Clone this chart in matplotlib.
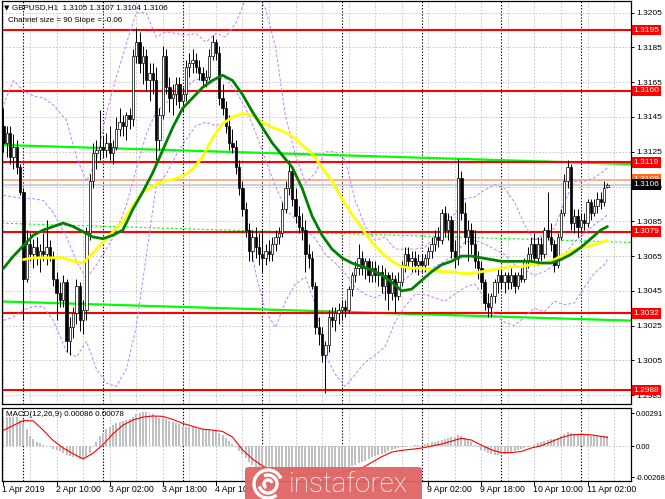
import matplotlib
matplotlib.use('Agg')
import matplotlib.pyplot as plt
import matplotlib.transforms as mtransforms
from matplotlib.patches import FancyBboxPatch, Arc
import numpy as np

W, H = 665, 499

# GBPUSD H1 candles, prices in pips above 1.3000
OPENS = [140, 130, 136, 122, 128, 116, 102, 52, 72, 66, 70, 64, 68, 66, 70, 64, 52, 44, 40, 50,
         16, 24, 32, 48, 28, 34, 78, 108, 124, 126, 128, 126, 130, 124, 128, 138, 142, 140, 146, 144,
         180, 188, 176, 180, 166, 170, 166, 132, 146, 180, 162, 156, 158, 164, 154, 158, 174, 176, 178, 174,
         170, 166, 168, 180, 188, 182, 156, 150, 140, 130, 128, 116, 104, 92, 80, 68, 76, 70, 66, 64,
         68, 66, 72, 76, 78, 92, 104, 114, 98, 88, 82, 80, 66, 64, 48, 24, 20, 8, 14, 30,
         28, 32, 34, 36, 34, 46, 54, 58, 64, 58, 62, 54, 58, 54, 56, 48, 54, 44, 52, 42,
         50, 60, 66, 62, 64, 60, 62, 60, 64, 68, 72, 76, 74, 90, 80, 86, 68, 64, 110, 90,
         76, 80, 72, 62, 58, 50, 38, 36, 42, 50, 54, 50, 54, 50, 54, 48, 54, 52, 62, 66,
         72, 64, 72, 66, 80, 76, 72, 60, 76, 90, 108, 116, 84, 88, 82, 86, 84, 96, 90, 94,
         98, 96, 105]
HIGHS = [150, 140, 140, 135, 132, 118, 104, 80, 78, 75, 76, 72, 78, 86, 74, 68, 56, 50, 54, 52,
         30, 36, 52, 50, 40, 82, 112, 130, 132, 149, 134, 136, 140, 132, 145, 150, 146, 148, 150, 184,
         196, 194, 186, 184, 176, 176, 174, 150, 186, 184, 168, 164, 168, 168, 162, 178, 182, 184, 182, 178,
         174, 172, 184, 192, 190, 186, 164, 154, 146, 138, 132, 120, 108, 96, 84, 80, 82, 78, 80, 72,
         74, 76, 80, 82, 96, 108, 120, 116, 104, 94, 90, 86, 72, 68, 50, 30, 24, 16, 34, 36,
         36, 38, 40, 40, 48, 56, 62, 72, 68, 64, 64, 62, 62, 60, 60, 58, 56, 56, 54, 56,
         62, 70, 70, 68, 68, 66, 66, 66, 70, 76, 80, 82, 92, 94, 90, 88, 74, 121, 114, 96,
         86, 84, 80, 68, 62, 52, 44, 44, 52, 58, 58, 56, 56, 58, 56, 56, 58, 64, 70, 76,
         78, 76, 76, 82, 102, 84, 74, 78, 92, 112, 120, 118, 92, 92, 90, 90, 98, 98, 98, 102,
         102, 108, 107]
LOWS = [125, 122, 118, 115, 112, 100, 28, 50, 62, 58, 60, 56, 62, 60, 62, 48, 28, 36, 36, 10,
        8, 18, 26, 22, 20, 28, 74, 104, 115, 120, 122, 122, 120, 118, 126, 134, 134, 132, 138, 140,
        176, 170, 164, 160, 154, 158, 120, 126, 144, 158, 148, 146, 152, 150, 148, 154, 168, 170, 170, 166,
        162, 162, 166, 178, 178, 152, 146, 136, 126, 124, 112, 100, 88, 76, 62, 62, 64, 60, 56, 60,
        62, 62, 68, 72, 76, 90, 100, 94, 84, 78, 74, 56, 58, 46, 20, 14, 4, -14, 10, 24,
        22, 26, 28, 30, 32, 42, 50, 54, 54, 52, 50, 50, 50, 48, 44, 40, 34, 40, 32, 40,
        48, 56, 58, 56, 56, 54, 56, 56, 60, 64, 68, 70, 72, 76, 74, 64, 58, 60, 86, 72,
        62, 66, 58, 52, 46, 34, 30, 30, 38, 44, 46, 44, 46, 46, 44, 46, 50, 50, 58, 62,
        60, 60, 62, 64, 74, 68, 56, 58, 74, 88, 104, 80, 78, 76, 78, 80, 82, 86, 88, 90,
        92, 94, 104]
CLOSES = [130, 136, 122, 128, 116, 102, 52, 72, 66, 70, 64, 68, 66, 70, 64, 52, 44, 40, 50, 16,
          24, 32, 48, 28, 34, 78, 108, 124, 126, 128, 126, 130, 124, 128, 138, 142, 140, 146, 144, 180,
          188, 176, 180, 166, 170, 166, 132, 146, 180, 162, 156, 158, 164, 154, 158, 174, 176, 178, 174, 170,
          166, 168, 180, 188, 182, 156, 150, 140, 130, 128, 116, 104, 92, 80, 68, 76, 70, 66, 64, 68,
          66, 72, 76, 78, 92, 104, 114, 98, 88, 82, 80, 66, 64, 48, 24, 20, 8, 14, 30, 28,
          32, 34, 36, 34, 46, 54, 58, 64, 58, 62, 54, 58, 54, 56, 48, 54, 44, 52, 42, 50,
          60, 66, 62, 64, 60, 62, 60, 64, 68, 72, 76, 74, 90, 80, 86, 68, 64, 110, 90, 76,
          80, 72, 62, 58, 50, 38, 36, 42, 50, 54, 50, 54, 50, 54, 48, 54, 52, 62, 66, 72,
          64, 72, 66, 80, 76, 72, 60, 76, 90, 108, 116, 84, 88, 82, 86, 84, 96, 90, 94, 98,
          96, 104, 106]

# moving averages read every 3 bars (pips above 1.3000)
GREEN_MA_BARS = list(range(0, 181, 3)) + [182]
GREEN_MA = [58, 65, 71, 77, 80, 82, 84, 82, 79, 76, 75, 77, 80, 92, 102, 113, 126, 139, 150, 156,
            162, 166, 169, 166, 158, 148, 139, 130, 123, 116, 104, 88, 77, 69, 64, 61, 59, 57, 54, 50,
            45, 46, 51, 56, 60, 62, 65, 65, 64, 63, 62, 62, 62, 62, 61, 61, 63, 66, 70, 75,
            80, 82]
YELLOW_MA_BARS = list(range(6, 181, 3)) + [182]
YELLOW_MA = [63, 64, 64, 64, 64, 62, 61, 67, 73, 79, 85, 94, 102, 105, 108, 109, 111, 115, 122, 133,
             141, 145, 147, 146, 142, 139, 137, 134, 129, 124, 116, 108, 98, 89, 81, 73, 67, 62, 59, 58,
             58, 57, 56, 56, 55, 55, 56, 57, 58, 59, 59, 60, 61, 62, 65, 68, 70, 71, 73, 74]

# Bollinger bands (violet dashed), pips above 1.3000
BB_BARS = [0, 3, 6, 9, 12, 15] + list(range(19, 182, 3)) + [182]
BB_UPPER = [152, 166, 160, 157, 156, 152,
            143, 122, 108, 120, 147, 168, 187, 205, 205, 191, 194, 193, 192, 193, 188, 193, 191, 199, 213,
            217, 207, 185, 145, 123, 107, 113, 125, 125, 120, 97, 82, 74, 76, 69, 69, 69, 70, 76,
            86, 89, 98, 99, 103, 106, 104, 96, 83, 74, 78, 81, 96, 108, 108, 110, 114, 116]
BB_MID = [100, 99, 98, 98, 97, 90,
          76, 62, 52, 60, 69, 79, 94, 115, 135, 148, 153, 158, 162, 167, 165, 167, 167, 160, 150,
          136, 120, 105, 92, 86, 80, 75, 66, 61, 55, 47, 43, 41, 44, 48, 52, 56, 56, 59,
          62, 66, 73, 74, 72, 69, 66, 60, 57, 54, 56, 60, 66, 73, 78, 83, 87, 89]
BB_LOWER = [28, 30, 34, 36, 36, 28,
            10, 7, 16, 0, -8, -10, 0, 24, 65, 105, 112, 123, 132, 140, 142, 140, 142, 122, 88,
            55, 33, 24, 39, 49, 53, 37, 8, -3, -10, -3, 4, 8, 13, 27, 36, 43, 43, 41,
            39, 43, 47, 49, 41, 31, 27, 25, 30, 35, 33, 39, 37, 38, 47, 55, 60, 63]

# regression channel: middle line at left and right edge, half width
CHANNEL_MID = [1.30839, 1.30729]
CHANNEL_HALF = 0.0045

LEVELS = [1.3195, 1.3160, 1.3119, 1.3079, 1.3032, 1.2988]
ASK_LEVEL = 1.3109
BID_LEVEL = 1.3106

# MACD(12,26,9) in 1e-5 units
MACD_HIST = [250, 256, 258, 258, 256, 230, 200, 150, 90, 60, 38, 25, 15, 5, -5, -20, -35, -45, -60, -75,
             -85, -95, -105, -115, -110, -90, -60, -10, 40, 90, 120, 150, 170, 190, 200, 210, 220, 230, 240, 260,
             285, 295, 300, 298, 290, 280, 265, 250, 250, 235, 225, 215, 205, 195, 180, 170, 170, 165, 160, 155,
             150, 145, 140, 140, 135, 120, 100, 75, 45, 20, -10, -40, -70, -100, -135, -165, -195, -225, -245, -260,
             -270, -275, -275, -270, -255, -240, -225, -215, -210, -210, -210, -215, -225, -240, -255, -265, -270, -265, -250, -235,
             -220, -205, -195, -185, -180, -170, -160, -150, -140, -125, -110, -95, -85, -75, -65, -55, -45, -35, -25, -15,
             -10, -5, 0, 5, 8, 10, 15, 20, 28, 35, 40, 45, 55, 65, 75, 80, 85, 95, 90, 75,
             55, 35, 15, -10, -30, -45, -60, -70, -75, -75, -70, -65, -60, -55, -45, -35, -25, -15, -5, 5,
             15, 25, 35, 45, 55, 60, 65, 75, 90, 110, 125, 120, 110, 105, 100, 95, 95, 90, 90, 88,
             86, 86, 86]
SIGNAL_BARS = list(range(0, 181, 3)) + [182]
MACD_SIGNAL = [140, 183, 225, 222, 140, 50, -15, -65, -110, -60, 15, 110, 185, 230, 255, 265, 262, 235, 200, 175,
               150, 142, 130, 81, -30, -110, -170, -215, -240, -250, -245, -240, -245, -240, -225, -205, -190, -140, -90, -50,
               -35, -26, -15, 2, 20, 45, 70, 55, 10, -30, -55, -55, -45, -15, 5, 40, 75, 100, 105, 100,
               88, 78]

# labels that are not hidden by the watermark
TIME_LABELS = ['1 Apr 2019', '2 Apr 10:00', '3 Apr 02:00', '3 Apr 18:00', '4 Apr 10:00',
               '9 Apr 02:00', '9 Apr 18:00', '10 Apr 10:00', '11 Apr 02:00']
TIME_LABEL_BARS = [0, 16, 32, 48, 64, 128, 144, 160, 176]
DAY_BARS = [6, 30, 54, 78, 102, 126, 150, 174]

plt.rcParams['font.family'] = ['Liberation Sans', 'DejaVu Sans']


def pips(values):
    return 1.3 + np.asarray(values, dtype=float) / 10000.0


def fx(x):
    return x / W


def fy(y):
    return 1 - y / H


fig = plt.figure(figsize=(W / 100, H / 100), dpi=100)
fig.patch.set_facecolor('white')

ax = fig.add_axes([fx(2), fy(404), fx(629), 403 / H])
axm = fig.add_axes([fx(2), fy(481), fx(629), 73 / H])

xlim = (-0.45, 189.1)
for a in (ax, axm):
    a.set_xlim(*xlim)
    for s in a.spines.values():
        s.set_color('black')
        s.set_linewidth(0.9)
    a.tick_params(axis='x', bottom=False, labelbottom=False)
    a.tick_params(axis='y', left=False, labelleft=False, right=True, labelright=True,
                  direction='out', length=2.5, width=0.7, labelsize=6, pad=1.5, colors='black')
    # grid and day separators
    for b in range(0, 190, 8):
        a.axvline(b, color='#c0c0c0', lw=0.6, ls=(0, (2, 2)), zorder=0)
    for b in DAY_BARS:
        a.axvline(b, color='black', lw=0.8, ls=(0, (1.2, 1.6)), zorder=0.5)

ax.set_ylim(1.297995, 1.321168)
ticks = [1.2985 + 0.002 * k for k in range(12)]
ax.set_yticks(ticks)
ax.set_yticklabels(['%.4f' % t for t in ticks])
for t in ticks:
    ax.axhline(t, color='#c0c0c0', lw=0.6, ls=(0, (2, 2)), zorder=0)

# channel
x0, x1 = xlim
for off, style, lw in ((CHANNEL_HALF, '-', 1.6), (0.0, (0, (2, 2)), 0.8), (-CHANNEL_HALF, '-', 1.6)):
    ax.plot([x0, x1], [CHANNEL_MID[0] + off, CHANNEL_MID[1] + off], color='#00ff00', lw=lw, ls=style, zorder=2)

# levels
for lv in LEVELS:
    ax.axhline(lv, color='#ff0000', lw=1.5, zorder=2.5)
ax.axhline(ASK_LEVEL, color='#ffa07a', lw=1.2, zorder=2.4)
ax.axhline(BID_LEVEL, color='#c8c8c8', lw=1.2, zorder=2.3)

# bollinger bands
for band in (BB_UPPER, BB_MID, BB_LOWER):
    ax.plot(BB_BARS, pips(band), color='#c080ff', lw=0.7, ls=(0, (3, 2)), zorder=2.7)

# candles
bars = np.arange(len(CLOSES))
o, h, l, c = pips(OPENS), pips(HIGHS), pips(LOWS), pips(CLOSES)
ax.vlines(bars, l, h, color='black', lw=0.7, zorder=3)
bull = c >= o
body_low = np.minimum(o, c)
body_h = np.maximum(np.abs(c - o), 0.00003)
ax.bar(bars[bull], body_h[bull], bottom=body_low[bull], width=0.7, color='white',
       edgecolor='black', linewidth=0.5, zorder=3.1)
ax.bar(bars[~bull], body_h[~bull], bottom=body_low[~bull], width=0.7, color='black',
       edgecolor='black', linewidth=0.5, zorder=3.1)

# moving averages
ax.plot(YELLOW_MA_BARS, pips(YELLOW_MA), color='#ffff00', lw=2.0, zorder=4, solid_capstyle='round')
ax.plot(GREEN_MA_BARS, pips(GREEN_MA), color='#008000', lw=2.0, zorder=4.1, solid_capstyle='round')

# right side price boxes
tr = mtransforms.blended_transform_factory(ax.transAxes, ax.transData)
xbox = 1 + 2.5 / 629


def price_box(a, price, text, fc, z=10):
    a.text(xbox, price, text, transform=tr, ha='left', va='center', fontsize=6, color='white',
           zorder=z, clip_on=False,
           bbox=dict(boxstyle='square,pad=0.22', fc=fc, ec='none'))


for lv in LEVELS:
    price_box(ax, lv, '%.4f' % lv, '#ff0000')
price_box(ax, ASK_LEVEL, '%.4f' % ASK_LEVEL, '#ff6a1a', z=10)
price_box(ax, BID_LEVEL, '%.4f' % BID_LEVEL, 'black', z=11)

# header texts
fig.text(fx(4), fy(8), '\u25bc', fontsize=5, va='center', ha='left', family='DejaVu Sans')
fig.text(fx(12), fy(8), 'GBPUSD,H1  1.3105 1.3107 1.3104 1.3106', fontsize=5.8, va='center', ha='left')
fig.text(fx(8), fy(20), 'Channel size = 90 Slope = -0.06', fontsize=5.8, va='center', ha='left')

# MACD panel
axm.set_ylim(-0.003029, 0.003347)
axm.set_yticks([0.00291, 0.0, -0.00268])
axm.set_yticklabels(['0.00291', '0.00', '-0.00268'])
axm.tick_params(axis='y', labelsize=5.5, pad=1.2)
axm.axhline(0, color='#c0c0c0', lw=0.6, ls=(0, (2, 2)), zorder=0)
axm.bar(bars, np.asarray(MACD_HIST) / 100000.0, width=0.6, color='#c0c0c0', zorder=2)
axm.plot(SIGNAL_BARS, np.asarray(MACD_SIGNAL) / 100000.0, color='#ff0000', lw=0.8, zorder=3)
fig.text(fx(6), fy(414), 'MACD(12,26,9) 0.00086 0.00078', fontsize=5.8, va='center', ha='left')

# time axis
trm = mtransforms.blended_transform_factory(axm.transData, axm.transAxes)
for b in range(0, 190, 16):
    axm.plot([b, b], [0, -0.05], color='black', lw=0.7, transform=trm, clip_on=False)
for b, lab in zip(TIME_LABEL_BARS, TIME_LABELS):
    axm.text(b - 0.3, -0.06, lab, transform=trm, ha='left', va='top', fontsize=6.3, clip_on=False)

# instaforex watermark
logo = FancyBboxPatch((fx(245), fy(506)), fx(177), 39 / H, boxstyle='round,pad=0,rounding_size=0.006',
                      transform=fig.transFigure, fc='#e06464', ec='none', alpha=0.95, zorder=20)
fig.patches.append(logo)
for r, t1, t2 in ((28, 30, 300), (18, 200, 470), (8, 20, 250)):
    fig.patches.append(Arc((fx(268), fy(484)), r / W, r / H, theta1=t1, theta2=t2,
                           transform=fig.transFigure, color='white', lw=2.4, zorder=21))
fig.text(fx(289), fy(484), 'instaforex', fontsize=20, color='white', va='center', ha='left',
         family='Roboto', fontweight='light', zorder=22)

fig.savefig('out.png', dpi=100)
